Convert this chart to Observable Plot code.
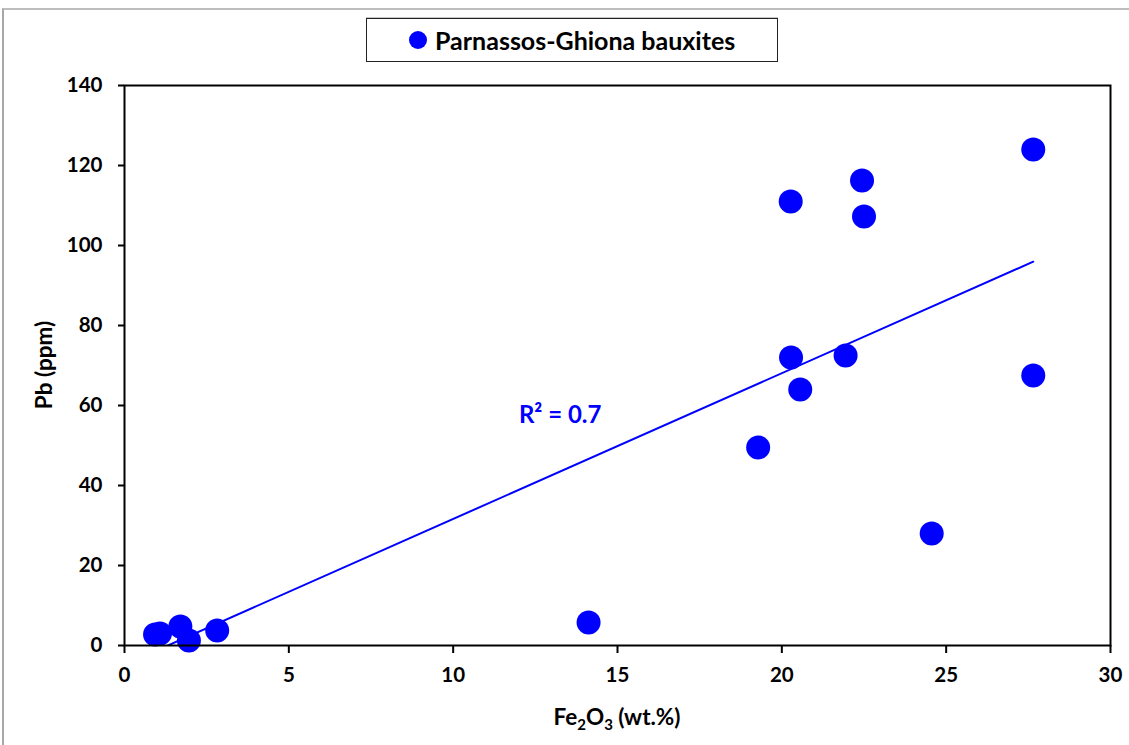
<!DOCTYPE html>
<html>
<head>
<meta charset="utf-8">
<script src="https://cdn.jsdelivr.net/npm/d3@7"></script>
<script src="https://cdn.jsdelivr.net/npm/@observablehq/plot@0.6"></script>
<style>
  html, body { margin: 0; padding: 0; background: #fff; }
  #wrap { position: relative; width: 1129px; height: 745px; overflow: hidden; font-family: Lato, "Open Sans", sans-serif; }
  #outer { position: absolute; left: 2px; top: 8px; width: 1200px; height: 800px;
           border-top: 2px solid #bdbdbd; border-left: 2px solid #a8a8a8; pointer-events: none; }
  #legend { position: absolute; left: 366px; top: 18px; width: 410px; height: 42px;
            border: 1.5px solid #222; box-shadow: 0 -1px 0 #c8c8c8; background: #fff;
            display: flex; align-items: center; box-sizing: content-box; }
  #legend .sw { width: 18px; height: 18px; border-radius: 50%; background: #0000ff; margin-left: 42px; margin-right: 8px; }
  #legend .tx { font-weight: bold; font-size: 25px; color: #000; }
  #chart { position: absolute; left: 0; top: 0; }
</style>
</head>
<body>
<div id="wrap">
  <div id="chart"></div>
  <div id="outer"></div>
  <div id="legend"><div class="sw"></div><div class="tx">Parnassos-Ghiona bauxites</div></div>
</div>
<script>
const seriesName = "Parnassos-Ghiona bauxites";
const fe2o3 = [0.93, 1.08, 1.7, 1.96, 2.82, 14.12, 19.28, 20.27, 20.28, 20.56, 21.94, 22.44, 22.5, 24.56, 27.65, 27.65];
const pb    = [2.75, 3.0, 4.75, 1.25, 3.75, 5.75, 49.5, 111, 72, 64, 72.5, 116.25, 107.25, 28, 124, 67.5];
const xTicks = [0, 5, 10, 15, 20, 25, 30];
const yTicks = [0, 20, 40, 60, 80, 100, 120, 140];
const r2Label = "R² = 0.7";
const r2Pos = [{x: 12.0, y: 57.5}];

const data = fe2o3.map((x, i) => ({x, y: pb[i]}));

const chart = Plot.plot({
  width: 1129,
  height: 745,
  marginLeft: 124,
  marginRight: 19,
  marginTop: 85,
  marginBottom: 100,
  style: {fontFamily: "Lato, 'Open Sans', sans-serif", fontSize: "20.5px", fontWeight: "bold", color: "#000", background: "transparent"},
  x: {domain: [0, 30]},
  y: {domain: [0, 140]},
  marks: [
    Plot.linearRegressionY(data, {x: "x", y: "y", stroke: "#0000ff", strokeWidth: 2, ci: 0, clip: true}),
    Plot.dot(data, {x: "x", y: "y", r: 12, fill: "#0000ff", stroke: "none"}),
    Plot.frame({stroke: "#000", strokeWidth: 2}),
    Plot.axisX({ticks: xTicks, tickSize: 8, tickPadding: 14, label: null, stroke: "#000", strokeWidth: 2, strokeOpacity: 1, fill: "#000"}),
    Plot.axisY({ticks: yTicks, tickSize: 6, tickPadding: 16, label: null, stroke: "#000", strokeWidth: 2, strokeOpacity: 1, fill: "#000"}),
    Plot.text(r2Pos, {x: "x", y: "y", text: () => r2Label, fill: "#0000ff", textAnchor: "start", fontSize: 24, fontWeight: "bold"})
  ]
});
document.getElementById("chart").appendChild(chart);

const svg = d3.select(chart);
// X axis title with subscripts
const xt = svg.append("text")
  .attr("x", 617).attr("y", 725)
  .attr("text-anchor", "middle")
  .attr("font-size", 22.5).attr("font-weight", "bold").attr("fill", "#000");
xt.append("tspan").text("Fe");
xt.append("tspan").attr("font-size", 15).attr("dy", 5).text("2");
xt.append("tspan").attr("dy", -5).text("O");
xt.append("tspan").attr("font-size", 15).attr("dy", 5).text("3");
xt.append("tspan").attr("dy", -5).text(" (wt.%)");
// Y axis title
svg.append("text")
  .attr("transform", "translate(52,365) rotate(-90)")
  .attr("text-anchor", "middle")
  .attr("font-size", 22.5).attr("font-weight", "bold").attr("fill", "#000")
  .text("Pb (ppm)");
</script>
</body>
</html>
